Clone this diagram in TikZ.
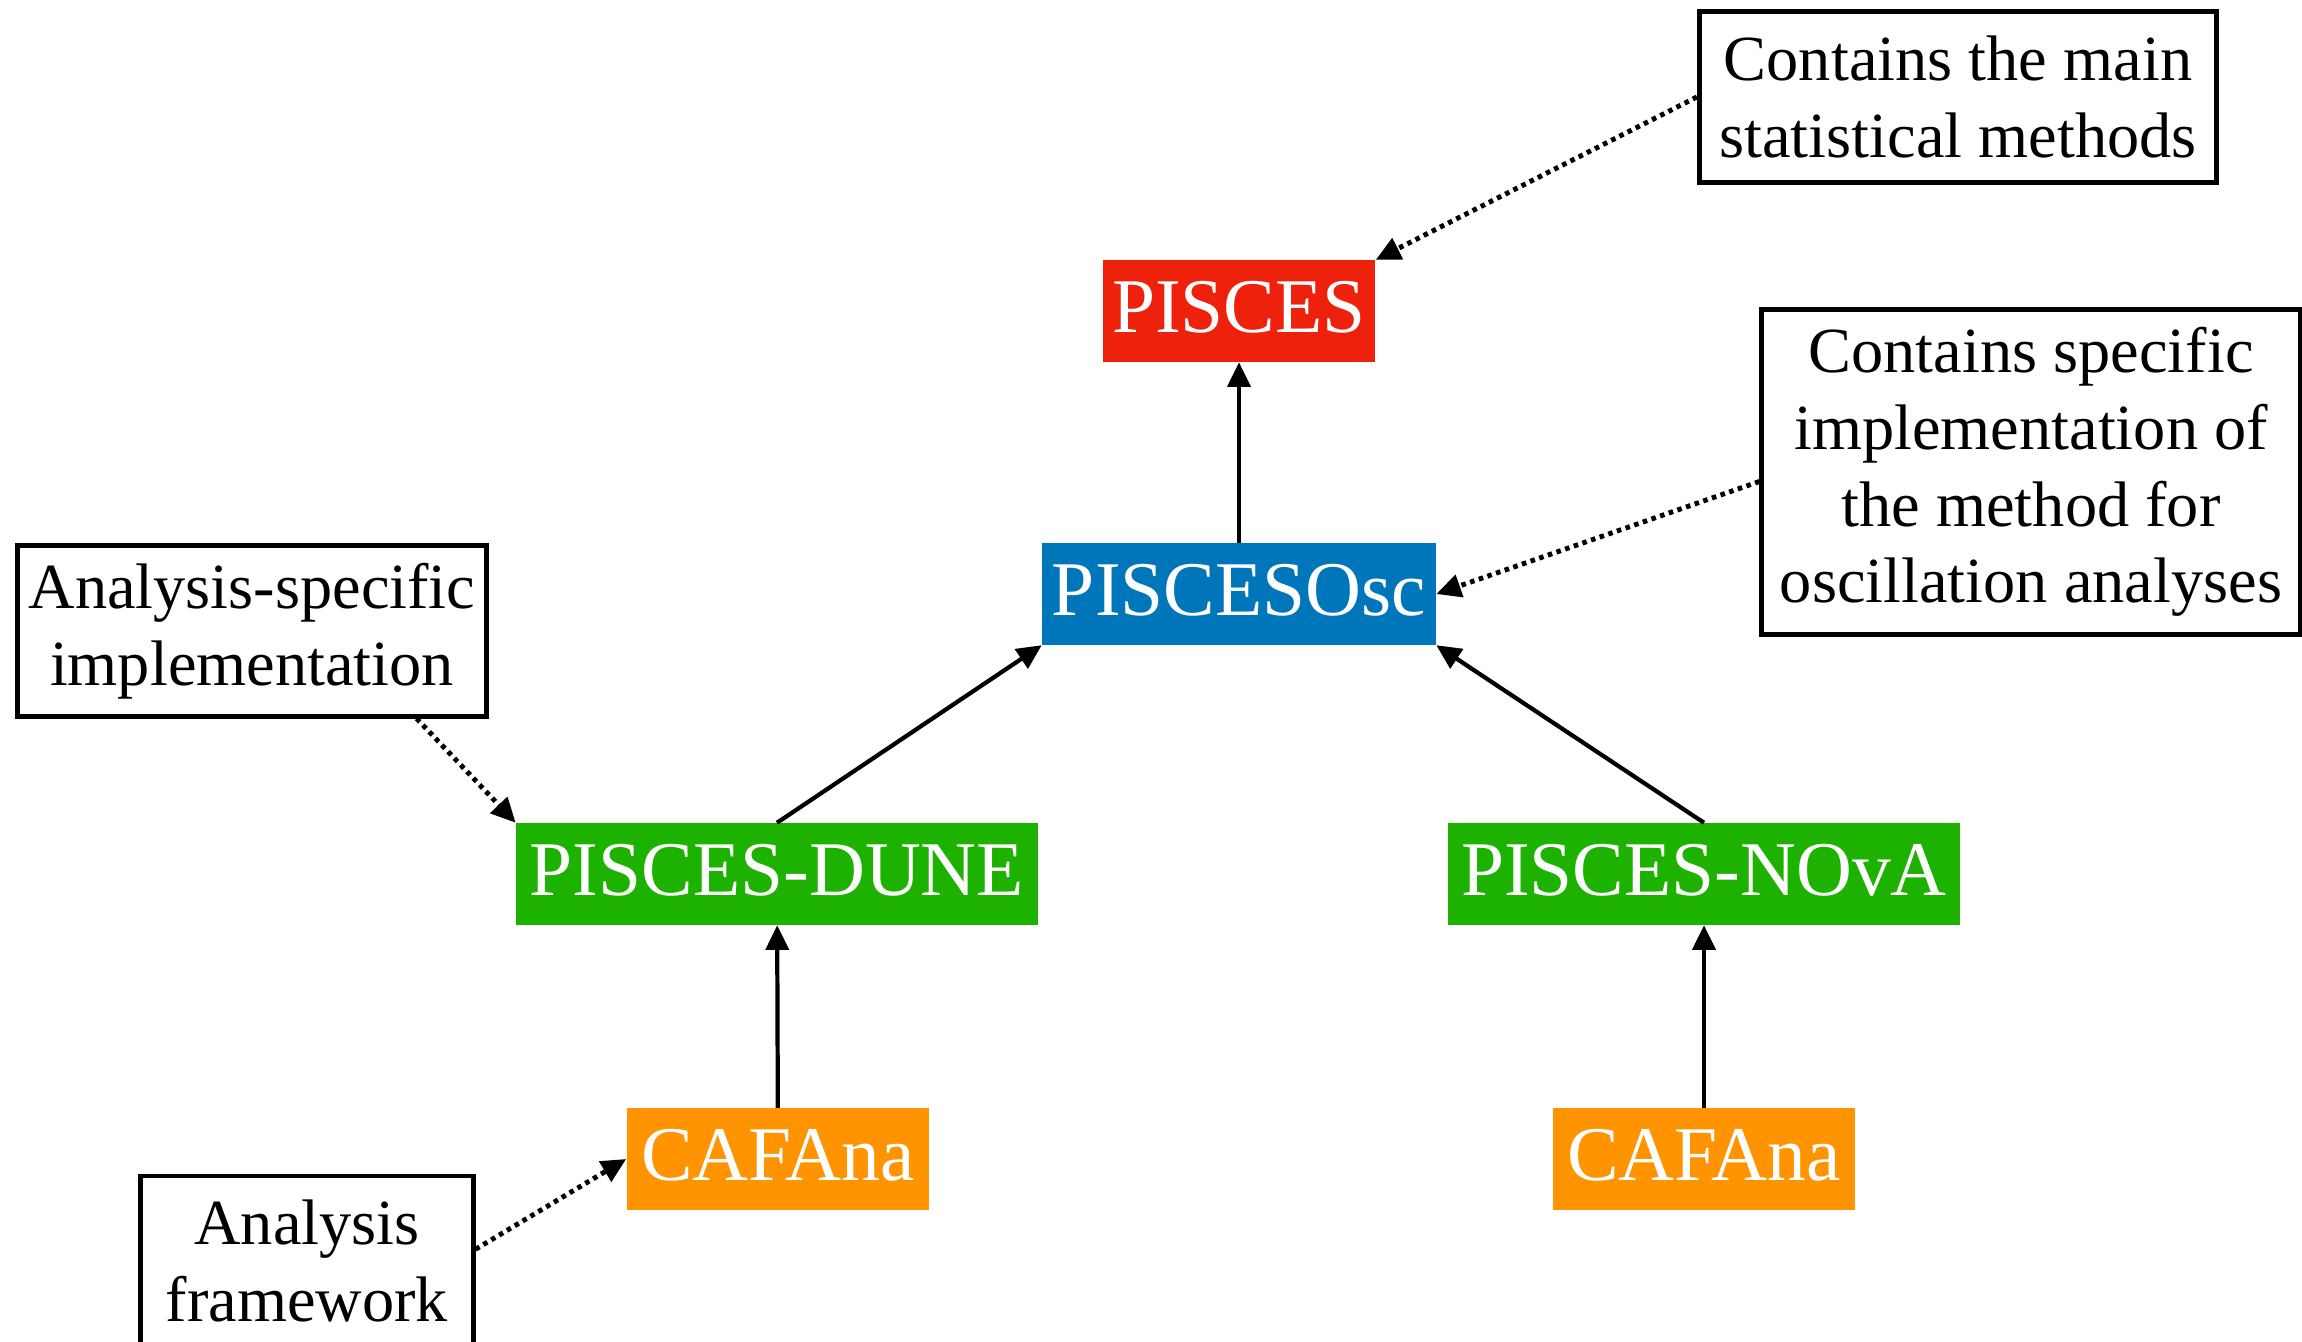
\documentclass[tikz,border=0pt]{standalone}
\usepackage{fontspec}
\setmainfont{Liberation Serif}
\usetikzlibrary{arrows.meta}
\definecolor{piscesred}{RGB}{238,34,12}
\definecolor{oscblue}{RGB}{0,118,186}
\definecolor{expgreen}{RGB}{29,177,0}
\definecolor{cafaorange}{RGB}{255,147,0}
\begin{document}
\begin{tikzpicture}[x=0.01cm,y=-0.01cm,
    box/.style={inner sep=0pt,text=white,minimum height=1.01cm,text height=15pt,text depth=3pt,font=\fontsize{22}{26}\selectfont},
    note/.style={draw,line width=1.4pt,align=center,inner sep=0pt,font=\fontsize{18.3}{21.8}\selectfont},
    link/.style={line width=1.2pt,-{Triangle[length=7pt,width=6.5pt]}},
    hint/.style={link,line width=1.4pt,dash pattern=on 1.3pt off 1.3pt}]
\useasboundingbox (0,0) rectangle (2302,1342);

% packages
\node[box,fill=piscesred,minimum width=2.72cm] (pisces) at (1239,311) {PISCES};
\node[box,fill=oscblue,minimum width=3.93cm] (osc) at (1239,594) {PISCESOsc};
\node[box,fill=expgreen,minimum width=5.21cm] (dune) at (777,874) {PISCES-DUNE};
\node[box,fill=expgreen,minimum width=5.11cm] (nova) at (1704,874) {PISCES-NOvA};
\node[box,fill=cafaorange,minimum width=3.02cm] (cafl) at (778,1159) {CAFAna};
\node[box,fill=cafaorange,minimum width=3.02cm] (cafr) at (1704,1159) {CAFAna};

\draw[link] (osc) -- (pisces);
\draw[link] (dune.north) -- (osc.south west);
\draw[link] (nova.north) -- (osc.south east);
\draw[link] (cafl) -- (dune);
\draw[link] (cafr) -- (nova);

% notes
\node[note,minimum width=5.17cm,minimum height=1.70cm] (statnote) at (1958,97) {Contains the main\\statistical methods};
\node[note,minimum width=5.38cm,minimum height=3.24cm] (oscnote) at (2031,472) {Contains specific\\implementation of\\the method for\\oscillation analyses};
\node[note,minimum width=4.68cm,minimum height=1.70cm] (anote) at (252,631) {Analysis-specific\\implementation};
\node[note,minimum width=3.32cm,minimum height=1.70cm] (fwnote) at (307,1261) {Analysis\\framework};

\draw[hint] (statnote.west) -- (pisces.north east);
\draw[hint] (oscnote.-178) -- (osc.east);
\draw[hint] (anote.-28) -- (dune.north west);
\draw[hint] (fwnote.4) -- (cafl.west);

\end{tikzpicture}
\end{document}
